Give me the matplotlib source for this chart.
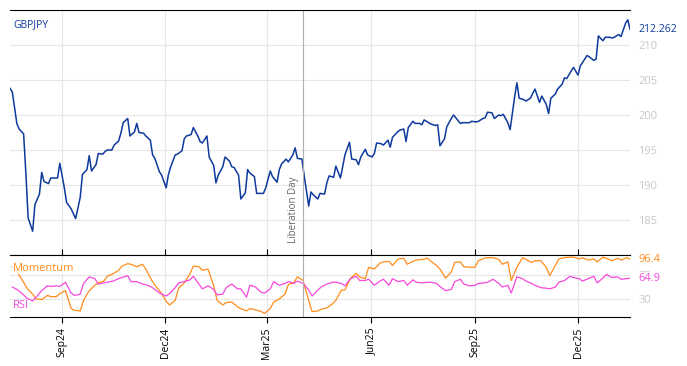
import numpy as np
import pandas as pd
import matplotlib
matplotlib.use("Agg")
import matplotlib.pyplot as plt
import matplotlib.dates as mdates
import matplotlib.transforms as mtransforms

# GBPJPY close, every 2nd business day from 2024-07-17
price = [203.8, 203.3, 198.8, 198.0, 197.3, 191.7, 185.3, 183.4, 187.2, 188.7,
         191.8, 190.5, 190.2, 191.0, 191.0, 191.0, 193.1, 189.6, 187.5, 186.6,
         185.9, 185.2, 188.2, 191.5, 192.2, 194.2, 192.0, 192.9, 194.5, 194.4,
         194.8, 195.0, 195.0, 195.7, 196.3, 197.4, 198.9, 199.5, 197.0, 197.6,
         198.8, 197.5, 197.4, 197.0, 196.4, 194.3, 193.8, 191.9, 191.4,
         189.6, 191.5, 192.6, 194.3, 194.4, 194.9, 196.6, 197.0, 197.2, 198.2,
         197.0, 196.2, 196.0, 197.0, 194.0, 192.8, 190.3, 191.4, 192.6, 194.0,
         193.4, 192.6, 192.5, 191.4, 188.0, 188.9, 192.2, 191.7, 191.2, 188.8,
         188.8, 188.8, 189.6, 192.0, 191.2, 190.4, 192.2, 193.0, 193.7, 193.3,
         194.3, 195.3, 193.8, 193.7, 191.3, 187.0, 189.0, 188.6, 188.0,
         188.8, 188.7, 190.3, 191.3, 191.1, 192.7, 191.0, 192.6, 194.3, 196.1,
         193.7, 193.6, 192.9, 194.0, 195.1, 194.3, 194.0, 194.5, 196.0, 195.9,
         195.7, 196.4, 195.4, 196.8, 197.5, 197.8, 198.0, 196.2, 198.2, 199.1,
         198.8, 198.8, 198.6, 199.3, 198.9, 198.7, 198.5, 198.6, 195.6, 196.6,
         198.3, 199.5, 200.0, 199.6, 198.8, 198.9, 198.9, 198.9, 199.1,
         199.0, 199.1, 199.5, 199.6, 200.4, 200.3, 199.5, 200.0, 199.9, 200.1,
         198.9, 197.9, 202.6, 204.6, 202.4, 202.2, 202.0, 202.4, 203.1, 203.7,
         201.8, 202.7, 201.5, 200.2, 202.4, 203.0, 203.7, 204.4, 205.3, 205.2,
         206.3, 206.8, 205.7, 207.0, 207.5, 208.5, 208.3, 207.8, 208.0, 211.3,
         210.6, 211.1, 211.1, 211.0, 211.1, 211.5, 211.2, 213.1, 213.6, 212.262]

# indicators, every 3rd business day ending 2026-01-16
momentum = [84, 73, 58, 48, 38, 30, 29, 36, 34, 34, 39, 44, 14, 11, 10, 28, 44, 53, 57, 60,
            68, 72, 78, 85, 89, 88, 84, 88, 80, 62, 53, 42, 26, 20, 28, 48, 57, 72, 85, 84,
            78, 80, 52, 28,
            20, 24, 25, 17, 14, 10, 14, 12, 9, 6, 14, 25, 30, 38, 54, 58, 67, 61, 27, 9,
            10, 13, 15, 22, 28, 45, 45, 65, 73, 67, 64, 83, 80, 90, 92, 93, 86, 97, 98, 88,
            93, 95, 96, 98,
            93, 86, 80, 65, 75, 91, 92, 84, 83, 83, 94, 98, 99, 99, 96, 88, 92, 61, 83, 99,
            96, 91, 94, 94, 83, 69, 86, 97, 99, 100, 100, 97, 99, 95, 97, 92, 100, 98, 94, 98,
            95, 99, 96.4]
rsi = [50, 45, 37, 31, 27, 33, 44, 52, 51, 52, 51, 58, 40, 36, 38, 56, 67, 64, 55, 57,
       58, 60, 64, 66, 69, 59, 59, 55, 54, 50, 46, 39, 35, 39, 49, 57, 59, 62, 68, 55,
       47, 52, 46, 37,
       38, 49, 55, 47, 47, 33, 53, 50, 41, 40, 47, 59, 53, 56, 59, 56, 60, 56, 45, 35,
       45, 50, 55, 58, 58, 56, 52, 64, 68, 61, 61, 63, 53, 60, 63, 53, 64, 59, 61, 53,
       62, 58, 57, 58,
       58, 56, 51, 44, 46, 59, 63, 55, 52, 53, 56, 57, 58, 63, 56, 50, 53, 40, 67, 64,
       60, 56, 53, 49, 48, 47, 50, 58, 61, 68, 66, 64, 60, 64, 68, 57, 65, 71, 66, 67,
       63, 64, 64.9]

price_dates = pd.bdate_range("2024-07-17", periods=len(price), freq="2B")
ind_dates = pd.date_range(end="2026-01-16", periods=len(momentum), freq="3B")
lib_day = pd.Timestamp("2025-04-02")

blue = "#0e3a9e"
orange = "#ff8c1a"
pink = "#f548dc"
grey = "#c8c8c8"
grid_c = "#e6e6e6"

plt.rcParams["font.family"] = ["Open Sans", "DejaVu Sans"]

fig = plt.figure(figsize=(6.87, 3.66), dpi=100)
ax = fig.add_axes([0.0146, 0.3033, 0.9025, 0.6694])
ax2 = fig.add_axes([0.0146, 0.1339, 0.9025, 0.1694], sharex=ax)

# price panel
ax.plot(price_dates, price, color=blue, lw=1.1)
ax.axvline(lib_day, color="#b0b0b0", lw=0.8)
ax.annotate("Liberation Day", xy=(lib_day, 0.05), xycoords=("data", "axes fraction"),
            xytext=(-3, 0), textcoords="offset points", rotation=90,
            ha="right", va="bottom", fontsize=7, color="#666666")
ax.set_xlim(price_dates[0], price_dates[-1])
ax.set_ylim(180, 215)
ax.set_yticks([185, 190, 195, 200, 205, 210])
ax.yaxis.tick_right()
ax.tick_params(axis="y", length=0, labelcolor=grey, labelsize=8, pad=6)
ax.tick_params(axis="x", which="both", bottom=False, labelbottom=False)
ax.grid(True, color=grid_c, lw=0.8)
ax.text(0.005, 0.94, "GBPJPY", transform=ax.transAxes, color=blue, fontsize=7.5, va="center")
tr = mtransforms.blended_transform_factory(ax.transAxes, ax.transData)
ax.annotate(f"{price[-1]:.3f}", xy=(1, price[-1]), xycoords=tr, xytext=(6, 0),
            textcoords="offset points", color=blue, fontsize=7.5, va="center")

# indicator panel
ax2.plot(ind_dates, momentum, color=orange, lw=0.9)
ax2.plot(ind_dates, rsi, color=pink, lw=0.9)
ax2.axvline(lib_day, color="#b0b0b0", lw=0.8)
ax2.set_ylim(0, 103.5)
ax2.set_yticks([30, 70])
ax2.yaxis.tick_right()
ax2.tick_params(axis="y", length=0, labelcolor=grey, labelsize=8, pad=6)
ax2.grid(True, color=grid_c, lw=0.8)
ax2.xaxis.set_major_locator(mdates.MonthLocator(bymonth=[3, 6, 9, 12]))
ax2.xaxis.set_major_formatter(mdates.DateFormatter("%b%y"))
ax2.tick_params(axis="x", top=True, direction="out", length=4, width=0.8,
                labelsize=7.5, labelrotation=90)
ax2.text(0.005, 0.79, "Momentum", transform=ax2.transAxes, color=orange, fontsize=8,
         va="center", bbox=dict(facecolor="white", edgecolor="none", alpha=0.75, pad=0.5))
ax2.text(0.005, 0.18, "RSI", transform=ax2.transAxes, color=pink, fontsize=8,
         va="center", bbox=dict(facecolor="white", edgecolor="none", alpha=0.75, pad=0.5))
tr2 = mtransforms.blended_transform_factory(ax2.transAxes, ax2.transData)
ax2.annotate(f"{momentum[-1]:.1f}", xy=(1, momentum[-1]), xycoords=tr2, xytext=(6, 0),
             textcoords="offset points", color=orange, fontsize=8, va="center",
             bbox=dict(facecolor="white", edgecolor="none", pad=0.3))
ax2.annotate(f"{rsi[-1]:.1f}", xy=(1, rsi[-1]), xycoords=tr2, xytext=(6, 0),
             textcoords="offset points", color=pink, fontsize=8, va="center",
             bbox=dict(facecolor="white", edgecolor="none", pad=0.3))

for a in (ax, ax2):
    a.spines["left"].set_visible(False)
    a.spines["right"].set_visible(False)
    a.spines["top"].set_color("black")
    a.spines["bottom"].set_color("black")
    a.set_axisbelow(True)

fig.savefig("out.png", dpi=100)
